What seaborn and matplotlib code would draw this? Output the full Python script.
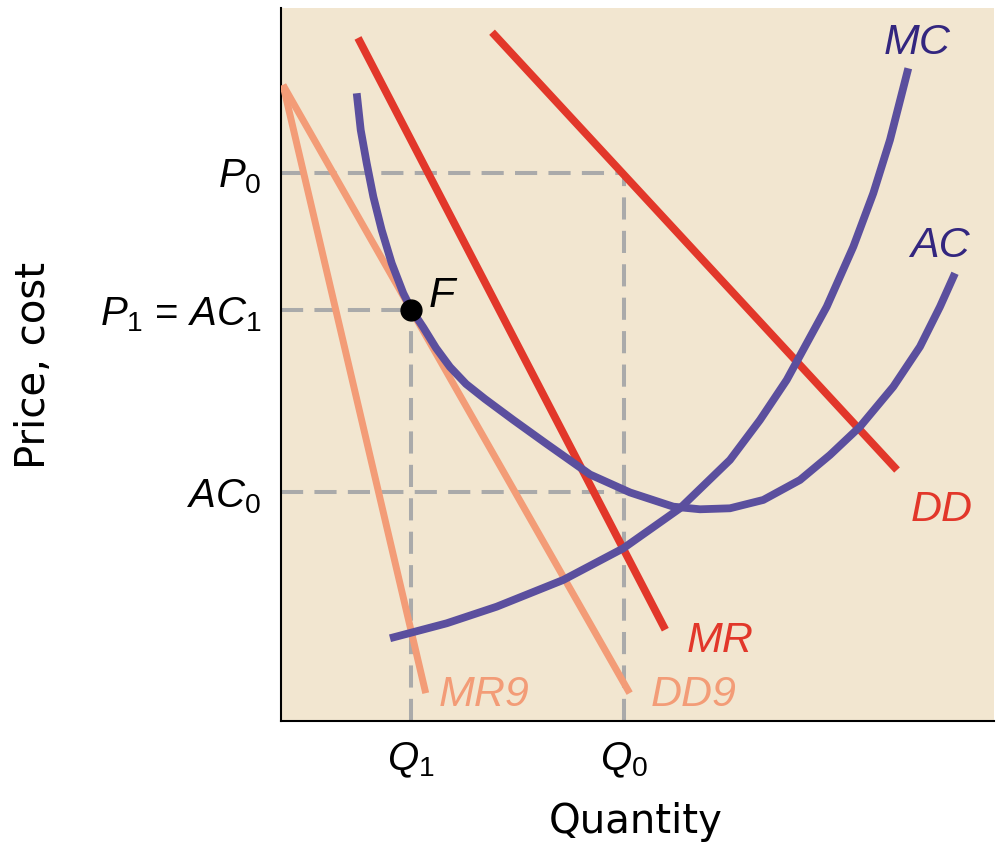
import numpy as np
import pandas as pd
import matplotlib
matplotlib.use("Agg")
import matplotlib.pyplot as plt
import seaborn as sns

# --- values (quantity / price in units of 0-100) ---
ac_x = [10.62, 11.18, 12.02, 12.95, 14.12, 15.53, 17.15, 18.33, 19.96, 21.74,
        23.70, 25.95, 28.61, 32.58, 37.27, 43.34, 48.95, 55.02, 58.77, 62.97,
        67.64, 72.79, 77.00, 81.21, 85.88, 89.62, 92.43, 94.53]
ac_y = [88.04, 82.89, 78.22, 73.53, 68.86, 64.19, 59.99, 57.64, 55.19, 52.31,
        49.65, 47.27, 45.16, 42.22, 38.85, 34.57, 32.05, 30.06, 29.69, 29.83,
        31.00, 33.80, 37.31, 41.28, 46.89, 52.50, 58.11, 62.79]

mc_x = [15.29, 23.24, 30.25, 39.59, 48.01, 55.96, 62.97, 67.18, 70.93,
        76.54, 80.27, 83.07, 85.41, 87.98]
mc_y = [11.60, 13.70, 16.03, 19.78, 24.22, 29.83, 36.61, 42.22, 47.83,
        58.11, 66.52, 74.01, 81.49, 91.54]

dd_x, dd_y = [29.6, 86.4], [96.6, 35.2]
mr_x, mr_y = [10.8, 53.9], [95.8, 12.8]
dd2_x, dd2_y = [0.28, 48.9], [89.2, 3.9]
mr2_x, mr2_y = [0.28, 20.3], [89.2, 3.9]

q1, q0 = 18.2, 48.1
p0, p1, ac0 = 76.9, 57.6, 32.1
x_ticks = [q1, q0]
x_labels = ["$Q_1$", "$Q_0$"]
y_ticks = [ac0, p1, p0]
y_labels = ["$AC_0$", "$P_1$ = $AC_1$", "$P_0$"]

BG = "#F2E6D0"
RED = "#E2372A"
SALMON = "#F39C77"
PURPLE = "#5B4F9E"
PURPLE_TXT = "#33267F"
GRAY = "#AAAAAA"

sns.set_theme(style="white")
plt.rcParams["font.family"] = ["DejaVu Sans"]
plt.rcParams["mathtext.fontset"] = "custom"
plt.rcParams["mathtext.it"] = "Liberation Sans:italic"
plt.rcParams["mathtext.rm"] = "Liberation Sans"
plt.rcParams["lines.solid_capstyle"] = "butt"
plt.rcParams["lines.solid_joinstyle"] = "round"

fig = plt.figure(figsize=(10, 8.5), dpi=100)
ax = fig.add_axes([0.281, 0.1518, 0.713, 0.8388])
ax.set_facecolor(BG)

# dashed guide lines
dash = dict(color=GRAY, lw=2.9, dashes=(5.5, 2.8), zorder=1)
ax.plot([0, q0], [p0, p0], **dash)
ax.plot([q0, q0], [0, p0], **dash)
ax.plot([0, q1], [p1, p1], **dash)
ax.plot([q1, q1], [0, p1], **dash)
ax.plot([0, q0], [ac0, ac0], **dash)

def draw(xs, ys, color, lw):
    df = pd.DataFrame({"q": xs, "p": ys})
    sns.lineplot(data=df, x="q", y="p", ax=ax, color=color, lw=lw,
                 sort=False, estimator=None, zorder=3)

draw(mr2_x, mr2_y, SALMON, 5.0)
draw(dd2_x, dd2_y, SALMON, 5.0)
draw(mr_x, mr_y, RED, 5.6)
draw(dd_x, dd_y, RED, 5.6)
draw(ac_x, ac_y, PURPLE, 5.6)
draw(mc_x, mc_y, PURPLE, 5.6)

ax.plot([q1], [p1], "o", color="black", ms=15, zorder=5)

lab = dict(fontsize=31, style="italic", family="Liberation Sans", ha="center", va="center")
ax.text(89.2, 95.1, "MC", color=PURPLE_TXT, **lab)
ax.text(92.4, 66.6, "AC", color=PURPLE_TXT, **lab)
ax.text(92.7, 29.6, "DD", color=RED, **lab)
ax.text(61.6, 11.2, "MR", color=RED, **lab)
ax.text(28.5, 3.6, "MR9", color=SALMON, **lab)
ax.text(57.9, 3.6, "DD9", color=SALMON, **lab)
ax.text(22.6, 59.6, "F", color="black", **lab)

ax.set_xlim(0, 100)
ax.set_ylim(0, 100)
ax.set_xlabel("")
ax.set_ylabel("")
ax.set_xticks(x_ticks)
ax.set_xticklabels(x_labels, fontsize=29, color="black", family="Liberation Sans")
ax.set_yticks(y_ticks)
ax.set_yticklabels(y_labels, fontsize=29, color="black", family="Liberation Sans")
ax.tick_params(axis="both", length=0)
ax.tick_params(axis="x", pad=14)
ax.tick_params(axis="y", pad=14)

for side in ["top", "right"]:
    ax.spines[side].set_visible(False)
for side in ["left", "bottom"]:
    ax.spines[side].set_color("black")
    ax.spines[side].set_linewidth(1.5)

fig.text(0.636, 1 - 822 / 850, "Quantity", fontsize=29, color="black",
         ha="center", va="center")
fig.text(0.034, 1 - 365 / 850, "Price, cost", fontsize=29, color="black",
         ha="center", va="center", rotation=90)

fig.savefig("out.png", dpi=100)
